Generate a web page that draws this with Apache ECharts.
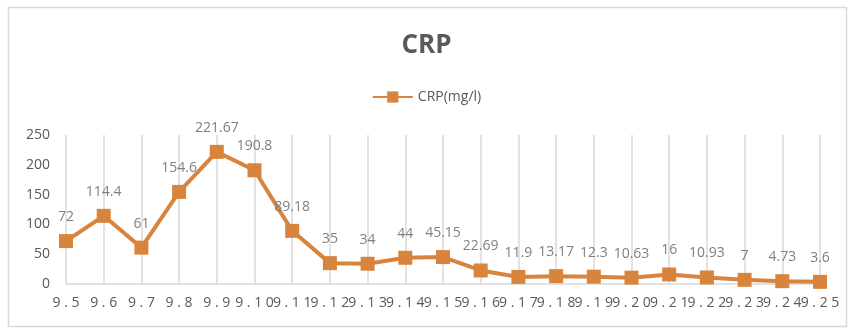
<!DOCTYPE html>
<html><head><meta charset="utf-8">
<script src="https://cdn.jsdelivr.net/npm/echarts@6/dist/echarts.min.js"></script>
<style>html,body{margin:0;padding:0;background:#fff}#c{width:853px;height:335px}</style>
</head><body><div id="c"></div>
<script>
const categories = ['9.5','9.6','9.7','9.8','9.9','9.10','9.11','9.12','9.13','9.14','9.15','9.16','9.17','9.18','9.19','9.20','9.21','9.22','9.23','9.24','9.25'];
const crpValues = [72,114.4,61,154.6,221.67,190.8,89.18,35,34,44,45.15,22.69,11.9,13.17,12.3,10.63,16,10.93,7,4.73,3.6];
const seriesName = 'CRP(mg/l)';
const titleText = 'CRP';
const yTicks = {min:0, max:250, interval:50};

const chart = echarts.init(document.getElementById('c'));
chart.setOption({
  backgroundColor:'#fff',
  animation:false,
  graphic:[{type:'rect',shape:{x:8.5,y:7.5,width:838,height:319},style:{fill:'none',stroke:'#d9d9d9',lineWidth:1.5}}],
  title:{text:titleText,left:'center',top:28,textStyle:{fontFamily:'Open Sans',fontSize:26,fontWeight:'bold',color:'#595959'}},
  legend:{data:[seriesName],left:'center',top:85,itemWidth:40,itemHeight:14,itemGap:6,
    textStyle:{fontFamily:'Open Sans',fontSize:14,color:'#595959'}},
  grid:{left:66,right:33,top:135,bottom:51},
  xAxis:{type:'category',data:categories,boundaryGap:false,
    axisLine:{lineStyle:{color:'#d9d9d9',width:1.5}},axisTick:{show:false},
    splitLine:{show:true,lineStyle:{color:'#d9d9d9',width:1.5}},
    axisLabel:{interval:0,margin:12,color:'#595959',fontFamily:'Open Sans',fontSize:14,
      formatter:v=>v.split('').join(' ')}},
  yAxis:{type:'value',min:yTicks.min,max:yTicks.max,interval:yTicks.interval,
    axisLine:{show:false},axisTick:{show:false},splitLine:{show:false},
    axisLabel:{margin:16,color:'#595959',fontFamily:'Open Sans',fontSize:14}},
  series:[{name:seriesName,type:'line',data:crpValues,symbol:'rect',symbolSize:14,
    lineStyle:{color:'#D9843C',width:4},itemStyle:{color:'#D9843C'},
    label:{show:true,position:'top',distance:10,color:'#7f7f7f',fontFamily:'Open Sans',fontSize:14}}]
});
</script></body></html>
